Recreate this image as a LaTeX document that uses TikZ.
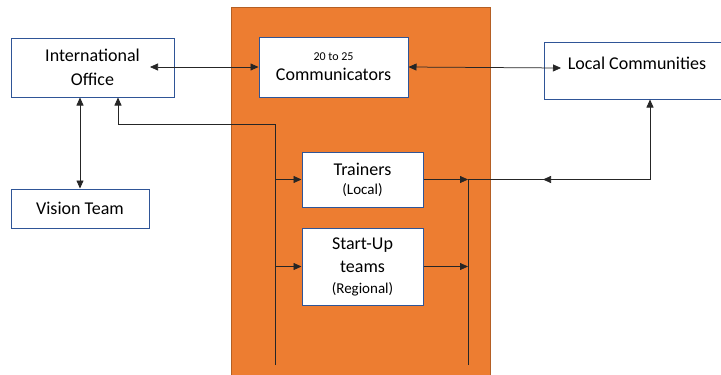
\documentclass[tikz,border=0pt]{standalone}
\usepackage{fontspec}
\setmainfont{Carlito}
\usepackage{tikz}
\usetikzlibrary{arrows.meta}
\definecolor{boxblue}{HTML}{2F5597}
\definecolor{orgfill}{HTML}{ED7D31}
\definecolor{orgedge}{HTML}{B45F24}
\newcommand{\mainsz}{\fontsize{18}{23}\selectfont}
\newcommand{\parsz}{\fontsize{15}{19}\selectfont}
\newcommand{\tinysz}{\fontsize{12}{14}\selectfont}
\tikzset{
  box/.style={draw=boxblue, line width=1pt, fill=white, align=center, inner sep=2pt, font=\mainsz},
  conn/.style={draw=black!85, line width=0.75pt},
  arr/.style={conn, -{Triangle[length=8pt,width=7pt]}},
  darr/.style={conn, {Triangle[length=8pt,width=7pt]}-{Triangle[length=8pt,width=7pt]}}
}

\begin{document}
\begin{tikzpicture}[x=1pt, y=-1pt]
    \useasboundingbox (0,0) rectangle (721,375);
    \fill[white] (0,0) rectangle (721,375);
    \draw[fill=orgfill, draw=orgedge, line width=1pt] (231,7) rectangle (490,390);

    \node[box, minimum width=163pt, minimum height=59pt] (office) at (92.5,67.5) {International\\[1pt]Office};
    \node[box, minimum width=138pt, minimum height=39pt] (vision) at (80,208.5) {Vision Team};
    \node[box, minimum width=149pt, minimum height=60pt] (comm) at (333.5,67) {\tinysz 20 to 25\\[-3pt]Communicators};
    \node[box, minimum width=186pt, minimum height=57pt, text depth=14pt] (local) at (637,70.5) {Local Communities};
    \node[box, minimum width=121pt, minimum height=55pt] (trainers) at (362.5,179.5) {Trainers\\[-4pt]\parsz (Local)};
    \node[box, minimum width=121pt, minimum height=77pt] (startup) at (362.5,266.5) {Start-Up\\teams\\[-2pt]\parsz (Regional)};

    \coordinate (officeR) at (150,67);
    \coordinate (localL) at (561,68);
    \coordinate (officeTap) at ([xshift=25.5pt]office.south);
    \coordinate (localTap) at ([xshift=13pt]local.south);
    \coordinate (busLtop) at (275,124);
    \coordinate (busLbot) at (275,365);
    \coordinate (busRbot) at (468,365);

    \draw[darr] (officeR) -- (comm.west);
    \draw[darr] (comm.east) -- (localL);
    \draw[darr] (vision.north) -- (vision.north |- office.south);

    \draw[arr] (busLbot) -- (busLtop) -| (officeTap);
    \draw[arr] (busLbot |- trainers.west) -- (trainers.west);
    \draw[arr] (busLbot |- startup.west) -- (startup.west);

    \draw[conn] (busRbot) -- (busRbot |- trainers.east);
    \draw[arr] (trainers.east) -- (trainers.east -| busRbot);
    \draw[arr] (startup.east) -- (startup.east -| busRbot);
    \draw[arr] (busRbot |- trainers.east) -| (localTap);
    \draw[arr] (localTap |- trainers.east) -- ++(-107,0);
\end{tikzpicture}
\end{document}
